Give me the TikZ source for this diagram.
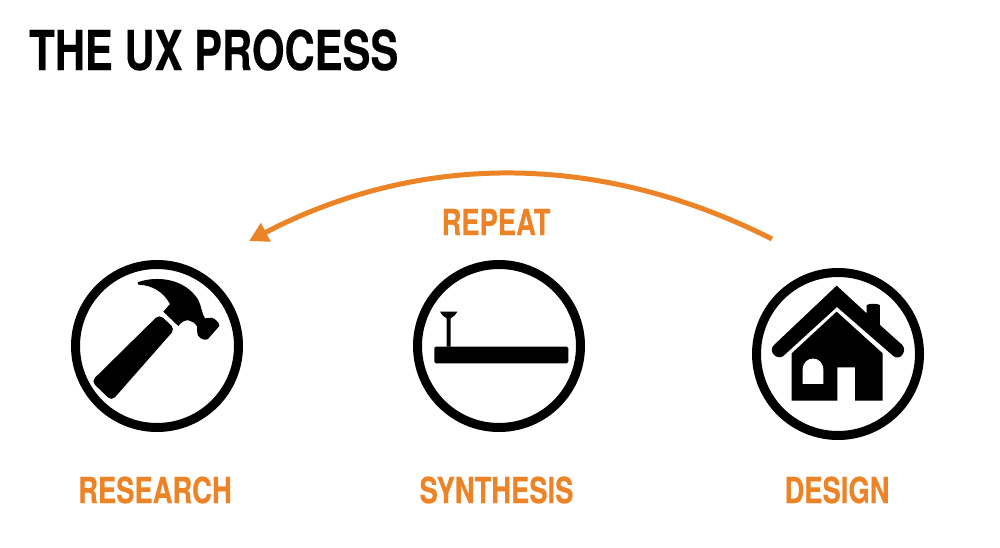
\documentclass[tikz,border=0pt]{standalone}
\usepackage{fontspec}
\setmainfont{TeX Gyre Heros}[FakeStretch=0.76, BoldFeatures={FakeBold=0.25}]
\usetikzlibrary{arrows.meta}
\definecolor{uxorange}{RGB}{236,131,38}

\begin{document}
\begin{tikzpicture}[x=1pt,y=-1pt]

% Styles
\tikzstyle{ring} 	=	[circle, draw, line width=9pt, inner sep=0pt, minimum size=163pt]
\tikzstyle{step_label} 	=	[text=uxorange, font=\fontsize{36}{36}\selectfont\bfseries]
\tikzstyle{icon} 	=	[x=0.3333pt, y=-0.3333pt]

	\useasboundingbox (0,0) rectangle (1000,548);

	\node (title) [anchor=west, inner sep=0pt, font=\fontsize{55}{55}\selectfont\bfseries] at (29,50) {THE UX PROCESS};

	% Rings
	\node[ring] (ring_research) at (157,346) {};
	\node[ring] (ring_synthesis) [right of=ring_research, node distance=342pt] {};
	\node[ring] (ring_design) at (838,354) {};

	% Labels
	\node[step_label] (research_label) [below of=ring_research, node distance=144pt, xshift=-2pt] {RESEARCH};
	\node[step_label] (synthesis_label) [below of=ring_synthesis, node distance=144pt, xshift=-2.5pt] {SYNTHESIS};
	\node[step_label] (design_label) [below of=ring_design, node distance=136pt, xshift=-1pt] {DESIGN};
	\node[step_label] (repeat_label) at (496,222) {REPEAT};

	% Arrow
	\coordinate (arrow_start) at (772,239);
	\coordinate (arrow_end) at (249,241);
	\draw[uxorange, line width=5pt, -{Triangle[length=19pt,width=20pt]}] (arrow_start) .. controls (600,152) and (420,152) .. (arrow_end);

	% Hammer
	\begin{scope}[shift={(60,250)}, icon]
		\fill (233,97) .. controls (290,76) and (375,85) .. (415,150) .. controls (425,170) and (425,190) .. (435,205) -- (455,203) .. controls (465,205) and (480,220) .. (478,228) -- (443,268) .. controls (430,275) and (410,258) .. (412,250) -- (411,228) .. controls (400,212) and (375,200) .. (355,228) -- (310,185) -- (330,162) .. controls (310,125) and (275,105) .. (235,104) -- cycle;
		\fill[rounded corners=5pt] (298,193) -- (345,237) -- (155,453) -- (94,394) -- cycle;
	\end{scope}

	% Nail and board
	\begin{scope}[shift={(400,250)}, icon]
		\fill[rounded corners=1.5pt] (103,290) rectangle (505,340);
		\fill (140,290) -- (140,205) .. controls (132,198) and (122,195) .. (120,185) -- (172,185) .. controls (170,195) and (160,198) .. (152,205) -- (152,290) -- cycle;
	\end{scope}

	% House
	\begin{scope}[shift={(740,260)}, icon]
		\fill (290,77) -- (380,160) -- (380,135) .. controls (390,130) and (410,130) .. (420,135) -- (420,195) -- (487,255) .. controls (503,272) and (480,305) .. (460,288) -- (291,141) -- (130,288) .. controls (112,302) and (82,275) .. (102,255) -- cycle;
		\fill (155,280) -- (290,155) -- (428,280) -- (428,422) -- (345,422) -- (345,322) -- (292,322) -- (292,422) -- (155,422) -- cycle;
		\fill[white] (188,372) -- (188,328) .. controls (190,285) and (248,285) .. (250,328) -- (250,372) -- cycle;
	\end{scope}

\end{tikzpicture}
\end{document}
